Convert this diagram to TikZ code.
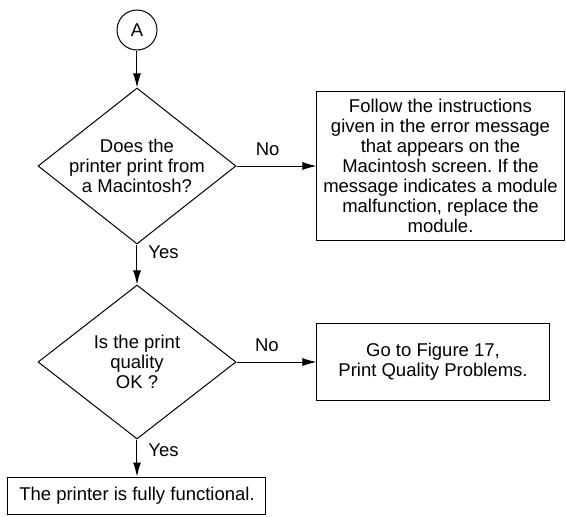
\documentclass[tikz,border=0pt]{standalone}
\usepackage{fontspec}
\setmainfont{Liberation Sans}
\frenchspacing
\usetikzlibrary{positioning,arrows.meta,shapes.geometric}

\begin{document}
\begin{tikzpicture}[
  node distance=37pt and 80pt,
  every node/.style={font=\fontsize{18.5}{20}\selectfont},
  conn/.style={draw, circle, line width=1pt, minimum size=40pt, inner sep=0pt},
  decision/.style={draw, diamond, line width=1pt, minimum width=198pt, minimum height=156pt, inner sep=0pt},
  qtext/.style={align=center, inner sep=0pt},
  box/.style={draw, rectangle, line width=1pt, align=center, inner sep=0pt},
  lbl/.style={inner sep=0pt},
  arr/.style={-{Latex[length=14pt, width=8pt]}, line width=1pt}
]
  \useasboundingbox (-137pt,30pt) rectangle (429pt,-487pt);

  \node[conn] (start) {A};

  \node[decision, below=of start,
        label={[qtext]center:Does the\\printer print from\\a Macintosh?}] (q1) {};
  \node[decision, below=40pt of q1, minimum height=154pt,
        label={[qtext]center:Is the print\\quality\\OK ?}] (q2) {};

  \node[box, right=of q1, minimum width=247pt, minimum height=149pt] (fix1)
    {Follow the instructions\\given in the error message\\that appears on the\\Macintosh screen. If the\\message indicates a module\\malfunction, replace the\\module.};
  \node[box, right=of q2, minimum width=232pt, minimum height=77pt] (fix2)
    {Go to Figure 17,\\Print Quality Problems.};

  \node[box, below=37pt of q2, minimum width=258pt, minimum height=37pt] (done)
    {The printer is fully functional.};

  \draw[arr] (start) -- (q1);
  \draw[arr] (q1) -- node[lbl, above=10pt, pos=0.39] {No} (fix1);
  \draw[arr] (q1) -- node[lbl, right=11pt, pos=0.2] {Yes} (q2);
  \draw[arr] (q2) -- node[lbl, above=10pt, pos=0.38] {No} (fix2);
  \draw[arr] (q2) -- node[lbl, right=11pt, pos=0.28] {Yes} (done);
\end{tikzpicture}
\end{document}
